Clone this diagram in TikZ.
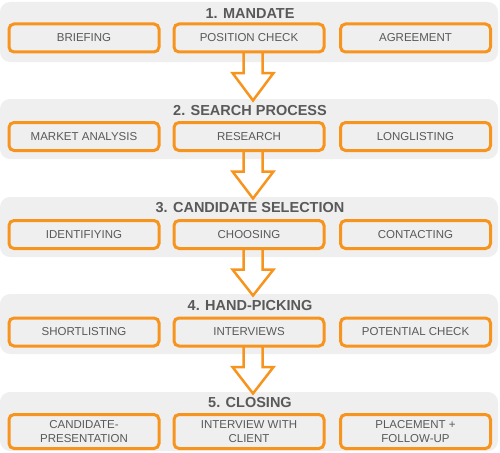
\documentclass[tikz,border=0pt]{standalone}
\usepackage{fontspec}
\setmainfont{Liberation Sans}
\definecolor{org}{RGB}{247,148,29}
\definecolor{pan}{RGB}{239,239,239}
\definecolor{txt}{RGB}{89,89,89}
\tikzset{
  panel/.style={fill=pan, draw=none, rounded corners=10pt, minimum width=498pt, minimum height=60pt, inner sep=0pt, outer sep=0pt},
  item/.style={draw=org, line width=3pt, rounded corners=5pt, fill=pan, minimum width=150pt, minimum height=28pt, inner sep=0pt, font=\fontsize{11.5}{14}\selectfont, text=txt, align=center},
  tallitem/.style={item, minimum height=34pt},
  ttl/.style={font=\bfseries\fontsize{14.5}{17}\selectfont, text=txt, inner sep=0pt},
  flow/.style={draw=org, line width=2.5pt, line join=miter}
}
\begin{document}
\begin{tikzpicture}[x=1pt,y=-1pt]
\useasboundingbox (0,0) rectangle (500,452);
% panels
\node[panel] (p1) at (249,32) {};
\node[panel] (p2) at (249,129) {};
\node[panel] (p3) at (249,227) {};
\node[panel] (p4) at (249,324) {};
\node[panel, minimum height=59pt] (p5) at (249,421.5) {};
% titles
\node[ttl] (t1) at (250,13.5) {1. MANDATE};
\node[ttl] (t2) at (250,110.5) {2. SEARCH PROCESS};
\node[ttl] (t3) at (250,208) {3. CANDIDATE SELECTION};
\node[ttl] (t4) at (250,305.5) {4. HAND-PICKING};
\node[ttl] (t5) at (250,403) {5. CLOSING};
% boxes
\node[item] (b11) at (84,38) {BRIEFING};
\node[item] (b12) at (249,38) {POSITION CHECK};
\node[item] (b13) at (415.5,38) {AGREEMENT};
\node[item] (b21) at (84,136.5) {MARKET ANALYSIS};
\node[item] (b22) at (249,136.5) {RESEARCH};
\node[item] (b23) at (415.5,136.5) {LONGLISTING};
\node[item] (b31) at (84,234.5) {IDENTIFIYING};
\node[item] (b32) at (249,234.5) {CHOOSING};
\node[item] (b33) at (415.5,234.5) {CONTACTING};
\node[item] (b41) at (84,332) {SHORTLISTING};
\node[item] (b42) at (249,332) {INTERVIEWS};
\node[item] (b43) at (415.5,332) {POTENTIAL CHECK};
\node[tallitem] (b51) at (84,431.5) {CANDIDATE-\\PRESENTATION};
\node[tallitem] (b52) at (249,431.5) {INTERVIEW WITH\\CLIENT};
\node[tallitem] (b53) at (415.5,431.5) {PLACEMENT +\\FOLLOW-UP};
% arrows
\foreach \a/\b in {b12/p2, b22/p3, b32/p4, b42/p5}{
  \coordinate (s) at ([xshift=4pt,yshift=1.5pt]\a.south);
  \coordinate (e) at ([xshift=4pt,yshift=-1.5pt]\b.north);
  \draw[flow] ([xshift=-9.5pt]s) -- ([xshift=-9.5pt,yshift=-21pt]s) -- ([xshift=-20.5pt,yshift=-21pt]s)
     -- (s |- e) -- ([xshift=20.5pt,yshift=-21pt]s) -- ([xshift=9.5pt,yshift=-21pt]s) -- ([xshift=9.5pt]s);
}
\end{tikzpicture}
\end{document}
